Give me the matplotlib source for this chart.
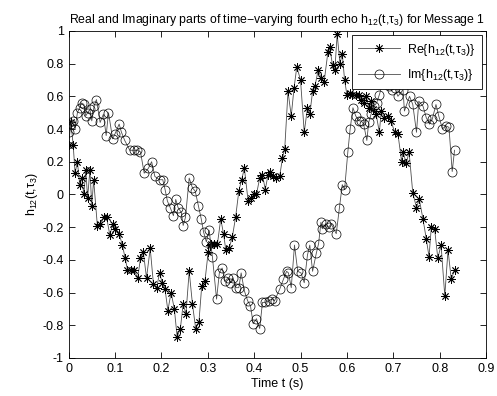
import numpy as np
import matplotlib
matplotlib.use("Agg")
import matplotlib.pyplot as plt

plt.rcParams["font.family"] = ["Liberation Sans", "DejaVu Sans"]
plt.rcParams["mathtext.fontset"] = "custom"
plt.rcParams["mathtext.rm"] = "Liberation Sans"
plt.rcParams["mathtext.it"] = "Liberation Sans:italic"
plt.rcParams["mathtext.default"] = "regular"

# =========================================
# Data
# =========================================
# Real part (time, value)
t_re = [0.000, 0.005, 0.010, 0.014, 0.019, 0.024, 0.028, 0.033, 0.037, 0.041,
        0.046, 0.050, 0.054, 0.062, 0.068, 0.076, 0.082, 0.089, 0.095, 0.101,
        0.109, 0.116, 0.122, 0.127, 0.134, 0.140, 0.149, 0.155, 0.161, 0.168,
        0.176, 0.183, 0.190, 0.196, 0.202, 0.208, 0.214, 0.221, 0.228, 0.234,
        0.241, 0.247, 0.253, 0.260, 0.267, 0.274, 0.281, 0.287, 0.294, 0.301,
        0.305, 0.308, 0.313, 0.321, 0.328, 0.334, 0.339, 0.346, 0.353, 0.360,
        0.367, 0.373, 0.379, 0.387, 0.393, 0.400, 0.405, 0.412, 0.418, 0.424,
        0.430, 0.434, 0.441, 0.448, 0.455, 0.461, 0.466, 0.473, 0.480, 0.486,
        0.492, 0.500, 0.508, 0.515, 0.520, 0.526, 0.531, 0.538, 0.545, 0.551,
        0.559, 0.563, 0.569, 0.574, 0.579, 0.585, 0.590, 0.595, 0.600, 0.606,
        0.612, 0.619, 0.626, 0.631, 0.636, 0.642, 0.647, 0.652, 0.657, 0.663,
        0.670, 0.674, 0.681, 0.688, 0.695, 0.703, 0.710, 0.718, 0.721, 0.728,
        0.734, 0.742, 0.750, 0.756, 0.764, 0.771, 0.777, 0.782, 0.789, 0.796,
        0.803, 0.811, 0.818, 0.825, 0.832]
re_vals = [0.30, 0.44, 0.30, 0.13, 0.20, 0.06, 0.10, 0.00, 0.15, -0.02,
           0.15, -0.07, 0.09, -0.19, -0.18, -0.14, -0.14, -0.25, -0.18, -0.21,
           -0.24, -0.31, -0.39, -0.46, -0.46, -0.46, -0.51, -0.39, -0.35, -0.51,
           -0.33, -0.55, -0.57, -0.48, -0.54, -0.58, -0.71, -0.60, -0.70, -0.87,
           -0.82, -0.67, -0.73, -0.47, -0.67, -0.82, -0.78, -0.56, -0.53, -0.35,
           -0.31, -0.30, -0.30, -0.30, -0.15, -0.24, -0.34, -0.33, -0.26, -0.14,
           0.02, 0.09, 0.16, -0.04, -0.02, 0.00, 0.00, 0.10, 0.12, 0.03,
           0.12, 0.14, 0.11, 0.10, 0.11, 0.22, 0.28, 0.63, 0.48, 0.65,
           0.78, 0.70, 0.38, 0.53, 0.49, 0.63, 0.66, 0.76, 0.71, 0.69,
           0.87, 0.90, 0.79, 0.76, 0.98, 0.80, 0.86, 0.70, 0.61, 0.62,
           0.61, 0.61, 0.61, 0.58, 0.56, 0.60, 0.53, 0.57, 0.52, 0.49,
           0.38, 0.51, 0.47, 0.48, 0.45, 0.38, 0.37, 0.20, 0.26, 0.19,
           0.26, 0.01, -0.08, -0.03, -0.15, -0.27, -0.38, -0.20, -0.21, -0.39,
           -0.31, -0.62, -0.34, -0.52, -0.46]

# Imaginary part (time, value)
t_im = [0.000, 0.005, 0.010, 0.014, 0.019, 0.024, 0.028, 0.033, 0.037, 0.041,
        0.046, 0.050, 0.055, 0.060, 0.068, 0.075, 0.081, 0.086, 0.095, 0.100,
        0.109, 0.114, 0.121, 0.132, 0.140, 0.148, 0.155, 0.163, 0.172, 0.179,
        0.186, 0.196, 0.203, 0.208, 0.213, 0.219, 0.226, 0.231, 0.236, 0.243,
        0.247, 0.252, 0.260, 0.267, 0.273, 0.280, 0.286, 0.291, 0.297, 0.303,
        0.310, 0.319, 0.325, 0.331, 0.337, 0.344, 0.349, 0.354, 0.361, 0.367,
        0.372, 0.379, 0.386, 0.392, 0.398, 0.405, 0.412, 0.418, 0.424, 0.431,
        0.438, 0.444, 0.455, 0.463, 0.470, 0.474, 0.480, 0.487, 0.494, 0.501,
        0.508, 0.515, 0.520, 0.526, 0.534, 0.539, 0.544, 0.547, 0.554, 0.561,
        0.566, 0.577, 0.584, 0.590, 0.595, 0.602, 0.607, 0.613, 0.619, 0.626,
        0.631, 0.636, 0.643, 0.647, 0.652, 0.659, 0.664, 0.670, 0.677, 0.684,
        0.691, 0.698, 0.703, 0.710, 0.721, 0.724, 0.735, 0.742, 0.750, 0.755,
        0.764, 0.771, 0.778, 0.784, 0.792, 0.798, 0.806, 0.813, 0.820, 0.827,
        0.832]
im_vals = [0.38, 0.43, 0.45, 0.40, 0.50, 0.53, 0.56, 0.55, 0.48, 0.50,
           0.52, 0.45, 0.54, 0.58, 0.44, 0.49, 0.36, 0.50, 0.34, 0.37,
           0.43, 0.38, 0.33, 0.27, 0.27, 0.27, 0.26, 0.13, 0.16, 0.20,
           0.11, 0.09, 0.09, 0.03, -0.04, -0.08, -0.13, -0.03, -0.08, -0.11,
           -0.19, -0.14, 0.10, 0.04, 0.02, -0.07, -0.15, -0.23, -0.29, -0.22,
           -0.38, -0.64, -0.48, -0.45, -0.53, -0.51, -0.54, -0.51, -0.57, -0.57,
           -0.48, -0.59, -0.65, -0.68, -0.79, -0.76, -0.82, -0.66, -0.66, -0.65,
           -0.64, -0.65, -0.58, -0.52, -0.47, -0.48, -0.57, -0.31, -0.47, -0.48,
           -0.54, -0.37, -0.31, -0.47, -0.36, -0.30, -0.17, -0.21, -0.18, -0.20,
           -0.18, -0.24, -0.08, 0.06, 0.03, 0.26, 0.40, 0.53, 0.48, 0.45,
           0.45, 0.43, 0.33, 0.44, 0.49, 0.54, 0.56, 0.61, 0.68, 0.71,
           0.66, 0.64, 0.65, 0.60, 0.64, 0.51, 0.60, 0.55, 0.38, 0.57,
           0.54, 0.47, 0.43, 0.46, 0.55, 0.48, 0.40, 0.42, 0.41, 0.14,
           0.27]

x_ticks = [0, 0.1, 0.2, 0.3, 0.4, 0.5, 0.6, 0.7, 0.8, 0.9]
x_tick_labels = ["0", "0.1", "0.2", "0.3", "0.4", "0.5", "0.6", "0.7", "0.8", "0.9"]
y_ticks = [-1, -0.8, -0.6, -0.4, -0.2, 0, 0.2, 0.4, 0.6, 0.8, 1]
y_tick_labels = ["-1", "-0.8", "-0.6", "-0.4", "-0.2", "0", "0.2", "0.4", "0.6", "0.8", "1"]

# =========================================
# Plot
# =========================================
fig = plt.figure(figsize=(4.97, 3.96), dpi=100)
ax = fig.add_axes([0.138, 0.096, 0.840, 0.826])

asterisk = (8, 2, 0)
line_col = "0.3"
ax.plot(t_re, re_vals, color=line_col, linewidth=0.6, marker=asterisk,
        markersize=6, markeredgewidth=0.6, markeredgecolor="k",
        label=r"Re{h$_{12}$(t,$\tau_3$)}")
ax.plot(t_im, im_vals, color=line_col, linewidth=0.6, marker="o",
        markersize=6.5, markeredgewidth=0.5, markerfacecolor="none",
        markeredgecolor="k", label=r"Im{h$_{12}$(t,$\tau_3$)}")

ax.set_xlim(0, 0.9)
ax.set_ylim(-1, 1)
ax.set_xticks(x_ticks)
ax.set_xticklabels(x_tick_labels)
ax.set_yticks(y_ticks)
ax.set_yticklabels(y_tick_labels)
ax.tick_params(direction="in", top=True, right=True, labelsize=9, length=4, width=0.6)
for s in ax.spines.values():
    s.set_linewidth(0.6)

ax.set_xlabel("Time t (s)", fontsize=9, labelpad=2)
ax.set_ylabel(r"h$_{12}$(t,$\tau_3$)", fontsize=9, labelpad=2)
ax.set_title(r"Real and Imaginary parts of time$-$varying fourth echo h$_{12}$(t,$\tau_3$) for Message 1",
             fontsize=8.8, pad=6)

leg = ax.legend(loc="upper right", fontsize=9, handlelength=3.4, fancybox=False,
                framealpha=1, edgecolor="k", borderaxespad=0.35, borderpad=0.5,
                labelspacing=0.75, handletextpad=0.5)
leg.get_frame().set_linewidth(0.6)

fig.savefig("out.png", dpi=100)
